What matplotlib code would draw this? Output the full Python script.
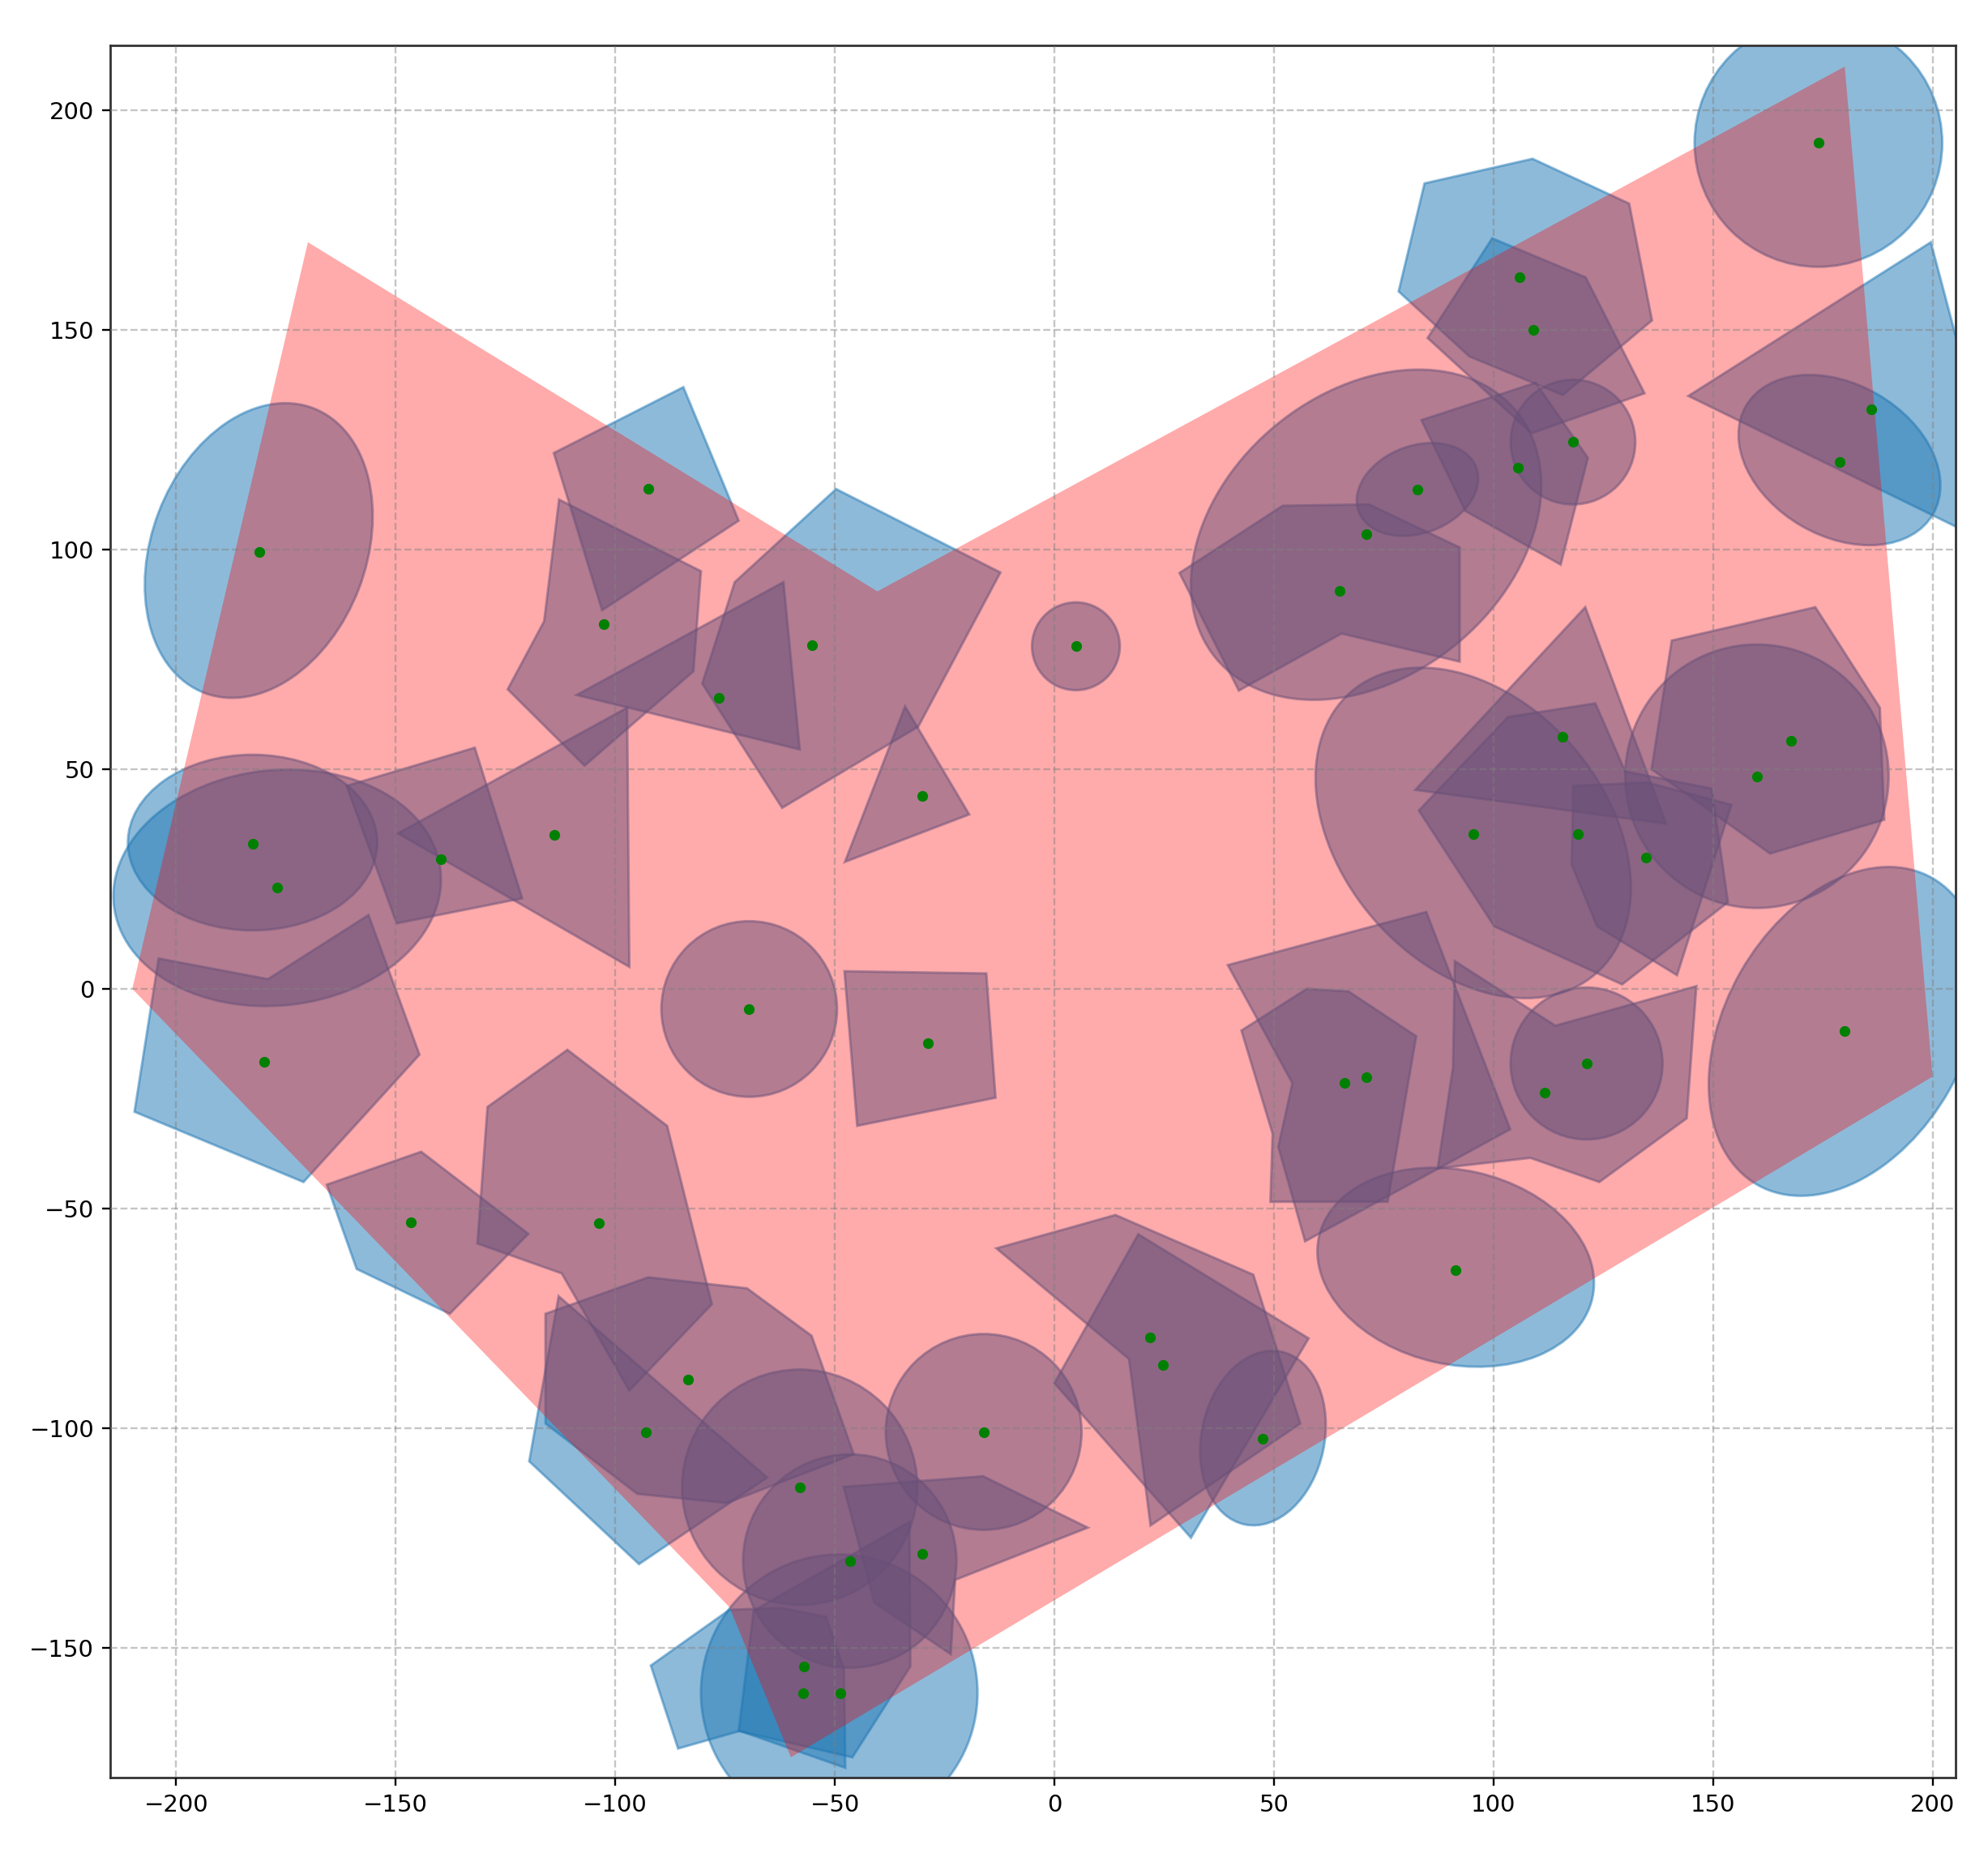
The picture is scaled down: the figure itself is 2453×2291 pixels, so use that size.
import matplotlib
matplotlib.use("Agg")
import matplotlib.pyplot as plt
from matplotlib.patches import Polygon, Ellipse

region = [(-170, 170), (-40.3, 90.5), (180, 210), (200, -20), (-60, -175), (-74, -140.8), (-210, 0)]

polygons = [
    [(-114, 122), (-84.5, 137), (-71.9, 106.6), (-103, 86.2)],
    [(-112.8, 111.4), (-80.5, 95.1), (-82.2, 72.3), (-107, 50.8), (-124.5, 68.2), (-116.2, 83.7)],
    [(-61.7, 92.6), (-58, 54.5), (-108.8, 66.9)],
    [(-49.7, 113.8), (-12.3, 94.8), (-31, 59.7), (-62, 41.2), (-80.2, 69.5), (-72.8, 92.6)],
    [(-34, 64.3), (-19.4, 39.7), (-47.7, 28.9)],
    [(-161.2, 46.2), (-132, 54.9), (-121.2, 20.6), (-149.8, 14.9)],
    [(-97.3, 64), (-96.8, 5), (-149.5, 35.4)],
    [(-204, 6.9), (-179.1, 2.2), (-156.2, 16.8), (-144.6, -15), (-171, -44), (-209.5, -28)],
    [(-165.7, -44.6), (-144.2, -37.1), (-119.8, -55.8), (-137.7, -74), (-158.9, -63.8)],
    [(-110.9, -13.9), (-88.2, -31.2), (-78, -71.8), (-96.8, -91.5), (-112.2, -64.8), (-131.4, -58), (-129.1, -26.9)],
    [(-112.9, -70), (-65.4, -111.3), (-94.6, -131), (-119.6, -107.6)],
    [(-115.9, -74), (-92.5, -65.7), (-70, -68.2), (-55.3, -79), (-45.7, -106), (-74.6, -117.1), (-95, -115), (-115.9, -99)],
    [(-48, -113.4), (-16.2, -111), (7.6, -122.7), (-22.6, -134.6), (-23.6, -151.5), (-41, -139.8)],
    [(-91.9, -154.1), (-74, -141.4), (-62, -141), (-52, -143), (-47.9, -155), (-47.6, -177.4), (-71.6, -169), (-85.7, -173)],
    [(-68.5, -141.6), (-33, -121.4), (-32.8, -154.3), (-46, -175), (-71.9, -169)],
    [(-47.8, 4), (-15.5, 3.5), (-13.4, -24.8), (-44.9, -31.2)],
    [(-13.2, -59.1), (13.9, -51.5), (45.3, -65.1), (56, -99), (21.9, -122.2), (17, -84.3)],
    [(19.1, -55.9), (57.9, -79.6), (31.1, -125), (0, -89.8)],
    [(39.5, 5.4), (84.7, 17.5), (103.8, -32), (57.1, -57.5), (51, -36), (54.2, -21.5)],
    [(42.6, -9.5), (57.5, 0), (67, -0.6), (82.4, -10.8), (75.9, -48.5), (49.2, -48.5), (49.7, -33)],
    [(91.2, 6.3), (114.1, -8.4), (146.2, 0.6), (144, -29.5), (124.1, -44), (108.4, -38.5), (87.3, -40.9), (90.8, -17.8)],
    [(120.9, 86.9), (139.3, 37.6), (82.2, 45.3)],
    [(83, 40.6), (103.3, 61.9), (123.2, 65), (130, 49.5), (149.7, 45.6), (153.4, 19.7), (129.3, 1), (100.2, 14.2)],
    [(118.2, 46.2), (135, 47), (154.2, 41.9), (141.8, 3.1), (123.6, 14.2), (117.8, 28.3)],
    [(140.6, 79.3), (173.3, 86.9), (188, 64), (189, 38.5), (163, 30.8), (136, 50)],
    [(28.5, 94.7), (52, 110), (71.7, 110.3), (92.3, 100.5), (92.3, 74.5), (65.4, 80.9), (42, 67.9)],
    [(84.3, 183.4), (108.9, 189), (130.9, 178.8), (136.1, 152.2), (115.8, 135.2), (94.5, 144), (78.4, 158.8)],
    [(99.7, 170.9), (121, 162), (134.4, 135.6), (108.7, 126.5), (85, 148.2)],
    [(83.6, 129.5), (109.6, 138), (121.5, 120.9), (115.3, 96.6), (93.6, 108.8)],
    [(199.6, 170), (144.4, 135), (215, 100.5), (215, 112)],
]

# centre x, centre y, width, height, angle
ellipses = [
    (-181.2, 99.8, 69.4, 48.8, 69),
    (-182.6, 33.3, 56.8, 40, 0),
    (-177, 23, 74.8, 53.6, 6),
    (-69.5, -4.6, 40, 40, 0),
    (4.9, 78, 20, 20, 0),
    (-16.1, -100.9, 44.6, 44.6, 0),
    (-58, -113.5, 53.6, 53.6, 0),
    (-46.6, -130.3, 48.6, 48.6, 0),
    (-49, -160.3, 63, 63, 0),
    (47.5, -102.3, 40.2, 28, 78),
    (91.4, -63.4, 63.8, 44.2, -12.7),
    (121.2, -17, 34.6, 34.6, 0),
    (180, -9.7, 80.4, 54.6, 60.3),
    (160, 48.4, 60, 60, 0),
    (95.4, 35.5, 85, 60, -49),
    (71, 103.4, 88.6, 64.6, 39.4),
    (82.7, 113.7, 28.6, 19.9, 20.6),
    (118.1, 124.5, 28.4, 28.4, 0),
    (174, 192.6, 56.4, 56.4, 0),
    (178.8, 120.4, 49.2, 34.6, -30),
]

point_x = [-181, -182.6, -177, -180, -139.8, -113.8, -146.5, -103.8, -83.4, -93, -92.4, -102.6, -76.5, -55.2, -30,
           -69.5, -28.8, 4.9, -16.1, -58, -46.5, -30, -57, -57.3, -48.8, 21.7, 24.7, 47.4, 91.4, 66, 71, 111.6,
           121.2, 180, 95.4, 115.7, 119.2, 134.7, 167.8, 160, 65, 71, 82.7, 105.6, 118.1, 106, 109, 174, 178.9, 186]
point_y = [99.5, 33, 23, -16.7, 29.6, 35, -53.1, -53.4, -88.9, -101, 113.8, 83.1, 66.3, 78.3, 44,
           -4.6, -12.4, 78, -101, -113.5, -130.3, -128.6, -154.3, -160.5, -160.5, -79.4, -85.6, -102.5, -64, -21.4, -20.2, -23.7,
           -17, -9.7, 35.2, 57.3, 35.2, 29.9, 56.5, 48.4, 90.6, 103.6, 113.7, 118.7, 124.5, 162, 150, 192.6, 119.9, 132]

x_ticks = [-200, -150, -100, -50, 0, 50, 100, 150, 200]
y_ticks = [-150, -100, -50, 0, 50, 100, 150, 200]

fig = plt.figure(figsize=(24.53, 22.91), dpi=100)
ax = fig.add_axes([0.0555, 0.0428, 0.9281, 0.9327])

for verts in polygons:
    ax.add_patch(Polygon(verts, closed=True, facecolor='tab:blue', edgecolor='tab:blue',
                         alpha=0.5, linewidth=2.2, zorder=1))
for cx, cy, w, h, ang in ellipses:
    ax.add_patch(Ellipse((cx, cy), w, h, angle=ang, facecolor='tab:blue', edgecolor='tab:blue',
                         alpha=0.5, linewidth=2.2, zorder=1))
ax.add_patch(Polygon(region, closed=True, facecolor='red', edgecolor='none', alpha=0.33, zorder=2))
ax.plot(point_x, point_y, 'o', color='green', markersize=8.5, linestyle='none', zorder=4)

ax.set_xlim(-215, 205.2)
ax.set_ylim(-179.6, 214.8)
ax.set_xticks(x_ticks)
ax.set_yticks(y_ticks)
ax.grid(True, linestyle='--', color='gray', alpha=0.45, linewidth=1.7)
ax.set_axisbelow(False)
for line in ax.get_xgridlines() + ax.get_ygridlines():
    line.set_zorder(3)
ax.tick_params(labelsize=21, length=7.4, width=1.7, pad=7)
for s in ax.spines.values():
    s.set_linewidth(2)
    s.set_color('#333333')

fig.savefig('out.png', dpi=100)
